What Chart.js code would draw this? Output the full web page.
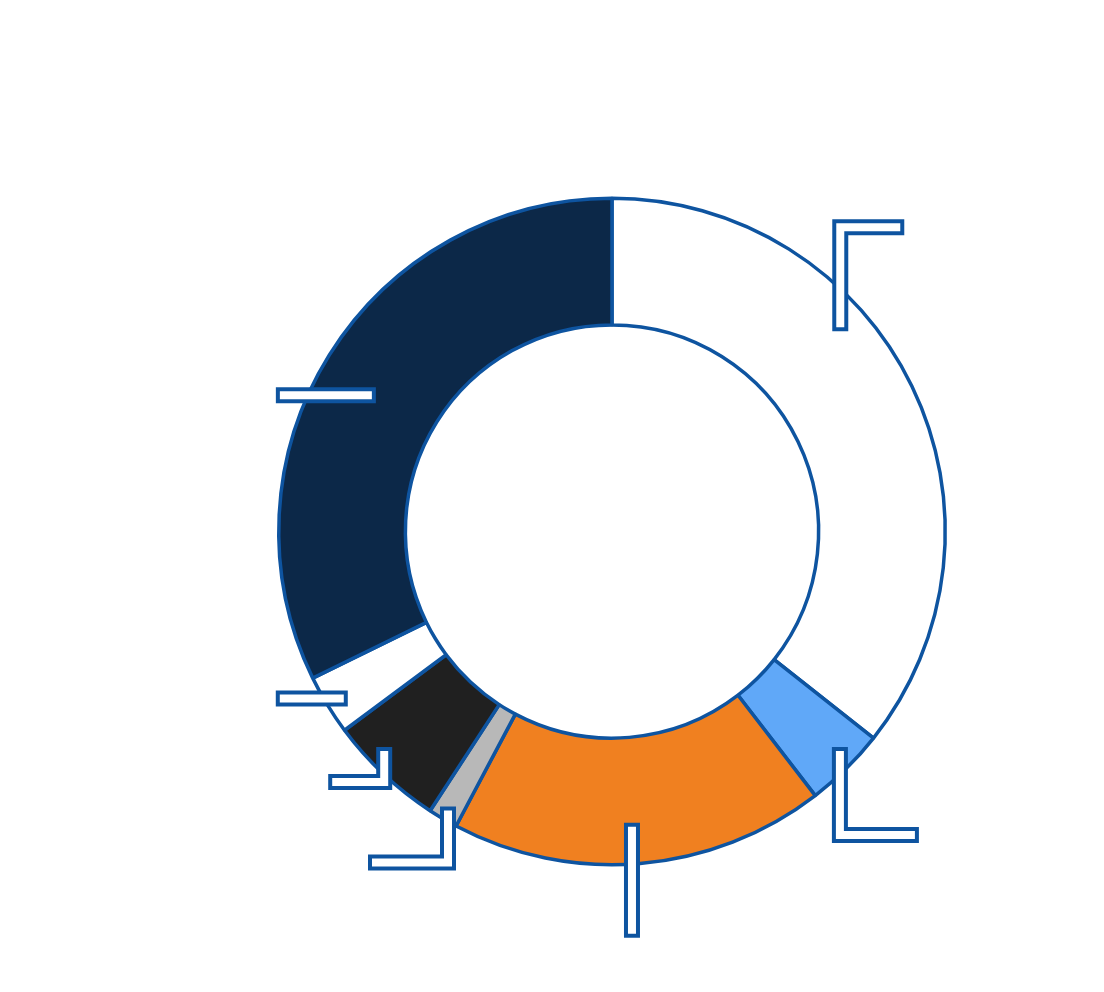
<!DOCTYPE html>
<html>
<head>
<meta charset="utf-8">
<script src="https://cdn.jsdelivr.net/npm/chart.js@4"></script>
<style>
  html, body { margin: 0; padding: 0; background: #ffffff; }
  #wrap { width: 1104px; height: 992px; }
</style>
</head>
<body>
<div id="wrap"><canvas id="donut" width="1104" height="992"></canvas></div>
<script>
// ----- DATA -----
const labels = ['Segment 1', 'Segment 2', 'Segment 3', 'Segment 4', 'Segment 5', 'Segment 6', 'Segment 7'];
const values = [35.64, 3.92, 18.19, 1.44, 5.64, 2.92, 32.25];
const fillColors = ['#ffffff', '#60a8f8', '#f08020', '#b8b8b8', '#202020', '#ffffff', '#0c2848'];

// leader line per slice: where it leaves the ring (fraction along arc, fraction of radius),
// then a vertical run and a horizontal run in px
const leaders = [
  {frac: 0.38, rf: 0.911, dy: -104, dx: 64},
  {frac: 0.36, rf: 0.941, dy: 88, dx: 79},
  {frac: 0.514, rf: 0.876, dy: 115, dx: 0},
  {frac: 0.56, rf: 0.961, dy: 56, dx: -80},
  {frac: 0.665, rf: 0.941, dy: 35, dx: -56},
  {frac: 0.41, rf: 0.938, dy: 0, dx: -72},
  {frac: 0.483, rf: 0.818, dy: 0, dx: -100}
];

const lineBlue = '#0e54a0';

// ----- LEADER PLUGIN -----
function shorten(pts, d) {
  const p = pts.map(q => ({x: q.x, y: q.y}));
  const n = p.length;
  let ax = p[1].x - p[0].x, ay = p[1].y - p[0].y, al = Math.hypot(ax, ay);
  p[0].x += ax / al * d; p[0].y += ay / al * d;
  let bx = p[n-1].x - p[n-2].x, by = p[n-1].y - p[n-2].y, bl = Math.hypot(bx, by);
  p[n-1].x -= bx / bl * d; p[n-1].y -= by / bl * d;
  return p;
}

function strokePath(ctx, pts) {
  ctx.beginPath();
  ctx.moveTo(pts[0].x, pts[0].y);
  for (let i = 1; i < pts.length; i++) ctx.lineTo(pts[i].x, pts[i].y);
  ctx.stroke();
}

const leaderPlugin = {
  id: 'leaders',
  afterDatasetsDraw(chart) {
    const ctx = chart.ctx;
    const arcs = chart.getDatasetMeta(0).data;
    ctx.save();
    ctx.lineCap = 'butt';
    ctx.lineJoin = 'miter';
    arcs.forEach((arc, i) => {
      const L = leaders[i];
      if (!L) return;
      const p = arc.getProps(['x', 'y', 'startAngle', 'endAngle', 'outerRadius'], true);
      const a = p.startAngle + (p.endAngle - p.startAngle) * L.frac;
      const r = p.outerRadius * L.rf;
      const p0 = {x: p.x + Math.cos(a) * r, y: p.y + Math.sin(a) * r};
      let pts = [p0];
      if (L.dy) pts.push({x: p0.x, y: p0.y + L.dy});
      const last = pts[pts.length - 1];
      if (L.dx) pts.push({x: last.x + L.dx, y: last.y});
      if (pts.length < 2) return;
      ctx.strokeStyle = lineBlue;
      ctx.lineWidth = 16;
      strokePath(ctx, pts);
      ctx.strokeStyle = '#ffffff';
      ctx.lineWidth = 8;
      strokePath(ctx, shorten(pts, 4));
    });
    ctx.restore();
  }
};

// ----- CHART -----
const chart = new Chart(document.getElementById('donut'), {
  type: 'doughnut',
  data: {
    labels: labels,
    datasets: [{
      data: values,
      backgroundColor: fillColors,
      borderColor: lineBlue,
      borderWidth: 3.5,
      hoverOffset: 0
    }]
  },
  options: {
    responsive: false,
    animation: false,
    devicePixelRatio: 1,
    cutout: '62%',
    layout: {padding: {left: 277, right: 157, top: 100, bottom: 29}},
    plugins: {
      legend: {display: false},
      tooltip: {enabled: false},
      title: {display: false}
    }
  },
  plugins: [leaderPlugin]
});
</script>
</body>
</html>
